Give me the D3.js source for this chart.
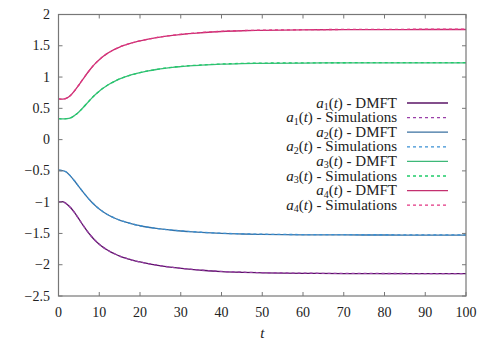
<!DOCTYPE html>
<html>
<head>
<meta charset="utf-8">
<script src="https://cdn.jsdelivr.net/npm/d3@7"></script>
<style>
  body { margin: 0; background: #fff; }
</style>
</head>
<body>
<svg id="chart" width="493" height="345"></svg>
<script>
// values
var times  = [0, 1, 2, 3, 4, 5, 6, 7, 8, 9, 10, 11, 12, 13, 14, 15, 16, 17, 18, 19, 20, 22, 24, 26, 28, 30, 32, 35, 40, 45, 50, 60, 70, 80, 90, 100];
var a1DMFT = [-0.995, -0.99, -1.029, -1.09, -1.173, -1.268, -1.366, -1.459, -1.541, -1.613, -1.672, -1.723, -1.765, -1.802, -1.833, -1.861, -1.885, -1.905, -1.925, -1.941, -1.956, -1.982, -2.005, -2.026, -2.043, -2.058, -2.072, -2.088, -2.109, -2.121, -2.129, -2.137, -2.141, -2.142, -2.143, -2.143];
var a2DMFT = [-0.49, -0.495, -0.521, -0.588, -0.666, -0.751, -0.836, -0.916, -0.989, -1.053, -1.108, -1.156, -1.197, -1.231, -1.261, -1.287, -1.308, -1.329, -1.347, -1.362, -1.377, -1.401, -1.42, -1.436, -1.449, -1.461, -1.471, -1.484, -1.5, -1.509, -1.516, -1.522, -1.524, -1.525, -1.526, -1.526];
var a3DMFT = [0.335, 0.332, 0.335, 0.348, 0.389, 0.442, 0.509, 0.581, 0.652, 0.717, 0.774, 0.824, 0.868, 0.907, 0.94, 0.97, 0.996, 1.017, 1.037, 1.055, 1.071, 1.098, 1.121, 1.14, 1.155, 1.167, 1.178, 1.19, 1.206, 1.215, 1.22, 1.224, 1.226, 1.227, 1.228, 1.228];
var a4DMFT = [0.65, 0.646, 0.662, 0.71, 0.785, 0.873, 0.966, 1.057, 1.141, 1.215, 1.278, 1.332, 1.378, 1.417, 1.451, 1.48, 1.505, 1.527, 1.546, 1.563, 1.578, 1.605, 1.629, 1.649, 1.666, 1.68, 1.693, 1.708, 1.728, 1.74, 1.747, 1.754, 1.758, 1.759, 1.76, 1.76];
var a1Sim  = [-0.995, -0.99, -1.029, -1.09, -1.173, -1.268, -1.366, -1.459, -1.541, -1.613, -1.672, -1.723, -1.765, -1.802, -1.833, -1.861, -1.885, -1.905, -1.925, -1.941, -1.956, -1.982, -2.004, -2.025, -2.042, -2.057, -2.07, -2.086, -2.107, -2.119, -2.127, -2.135, -2.139, -2.14, -2.141, -2.141];
var a2Sim  = [-0.49, -0.495, -0.521, -0.588, -0.666, -0.751, -0.836, -0.916, -0.989, -1.053, -1.108, -1.156, -1.197, -1.231, -1.261, -1.287, -1.308, -1.329, -1.347, -1.362, -1.377, -1.4, -1.419, -1.434, -1.447, -1.459, -1.468, -1.481, -1.497, -1.506, -1.512, -1.518, -1.52, -1.521, -1.522, -1.522];
var a3Sim  = [0.335, 0.332, 0.335, 0.348, 0.389, 0.442, 0.509, 0.581, 0.652, 0.717, 0.774, 0.824, 0.868, 0.907, 0.94, 0.97, 0.996, 1.017, 1.037, 1.055, 1.071, 1.099, 1.122, 1.142, 1.157, 1.17, 1.181, 1.193, 1.209, 1.218, 1.223, 1.227, 1.229, 1.23, 1.231, 1.231];
var a4Sim  = [0.65, 0.646, 0.662, 0.71, 0.785, 0.873, 0.966, 1.057, 1.141, 1.215, 1.278, 1.332, 1.378, 1.417, 1.451, 1.48, 1.505, 1.527, 1.546, 1.563, 1.578, 1.606, 1.631, 1.651, 1.668, 1.683, 1.696, 1.711, 1.731, 1.743, 1.75, 1.757, 1.761, 1.763, 1.764, 1.764];

var xTicks = [0, 10, 20, 30, 40, 50, 60, 70, 80, 90, 100];
var yTicks = [-2.5, -2, -1.5, -1, -0.5, 0, 0.5, 1, 1.5, 2];

var series = [
  {idx: "1", kind: "DMFT",        values: a1DMFT, color: "#5a1466", dash: null},
  {idx: "1", kind: "Simulations", values: a1Sim,  color: "#9a3fa8", dash: "3,3"},
  {idx: "2", kind: "DMFT",        values: a2DMFT, color: "#3a70a0", dash: null},
  {idx: "2", kind: "Simulations", values: a2Sim,  color: "#3a90d4", dash: "3,3"},
  {idx: "3", kind: "DMFT",        values: a3DMFT, color: "#3db878", dash: null},
  {idx: "3", kind: "Simulations", values: a3Sim,  color: "#1fcc6a", dash: "3,3"},
  {idx: "4", kind: "DMFT",        values: a4DMFT, color: "#c4306f", dash: null},
  {idx: "4", kind: "Simulations", values: a4Sim,  color: "#e23482", dash: "3,3"}
];

var plotL = 58.5, plotR = 466, plotT = 14.5, plotB = 296;
var serif = "'Liberation Serif', 'Times New Roman', 'DejaVu Serif', serif";

var svg = d3.select("#chart")
  .attr("font-family", serif);

var x = d3.scaleLinear().domain([0, 100]).range([plotL, plotR]);
var y = d3.scaleLinear().domain([-2.5, 2]).range([plotB, plotT]);

var fmt = function(d){ return d3.format("")(d).replace("-", "\u2212"); };

// curves
var line = d3.line()
  .x(function(d, i){ return x(times[i]); })
  .y(function(d){ return y(d); })
  .curve(d3.curveMonotoneX);

svg.append("g").selectAll("path").data(series).enter().append("path")
  .attr("d", function(s){ return line(s.values); })
  .style("fill", "none")
  .style("stroke", function(s){ return s.color; })
  .style("stroke-width", 1.3)
  .style("stroke-dasharray", function(s){ return s.dash; });

// frame
svg.append("rect")
  .attr("x", plotL).attr("y", plotT)
  .attr("width", plotR - plotL).attr("height", plotB - plotT)
  .style("fill", "none").style("stroke", "#777").style("stroke-width", 1.2);

// ticks, inward on all four sides
var ticksG = svg.append("g").style("stroke", "#777").style("stroke-width", 1);
xTicks.forEach(function(t){
  ticksG.append("line").attr("x1", x(t)).attr("x2", x(t)).attr("y1", plotB).attr("y2", plotB - 4);
  ticksG.append("line").attr("x1", x(t)).attr("x2", x(t)).attr("y1", plotT).attr("y2", plotT + 4);
});
yTicks.forEach(function(v){
  ticksG.append("line").attr("x1", plotL).attr("x2", plotL + 4).attr("y1", y(v)).attr("y2", y(v));
  ticksG.append("line").attr("x1", plotR).attr("x2", plotR - 4).attr("y1", y(v)).attr("y2", y(v));
});

svg.append("g").selectAll("text").data(xTicks).enter().append("text")
  .attr("x", function(d){ return x(d); })
  .attr("y", 317)
  .attr("text-anchor", "middle")
  .attr("font-family", serif)
  .style("font-size", "14px").style("fill", "#222")
  .text(fmt);

svg.append("g").selectAll("text").data(yTicks).enter().append("text")
  .attr("x", 50)
  .attr("y", function(d){ return y(d) + 4.5; })
  .attr("text-anchor", "end")
  .attr("font-family", serif)
  .style("font-size", "14px").style("fill", "#222")
  .text(fmt);

svg.append("text")
  .attr("x", x(50)).attr("y", 338)
  .attr("text-anchor", "middle")
  .attr("font-family", serif)
  .style("font-size", "15px").style("font-style", "italic").style("fill", "#222")
  .text("t");

// legend
var legend = svg.append("g");
series.forEach(function(s, i){
  var ly = 103 + i * 14.6;
  var t = legend.append("text")
    .attr("x", 397).attr("y", ly + 4.5)
    .attr("text-anchor", "end")
    .attr("font-family", serif)
    .style("font-size", "15px").style("fill", "#222");
  t.append("tspan").style("font-style", "italic").text("a");
  t.append("tspan").attr("dy", 2.5).style("font-size", "10px").text(s.idx);
  t.append("tspan").attr("dy", -2.5).text("(");
  t.append("tspan").style("font-style", "italic").text("t");
  t.append("tspan").text(") - " + s.kind);
  legend.append("line")
    .attr("x1", 407).attr("x2", 448)
    .attr("y1", ly).attr("y2", ly)
    .style("stroke", s.color)
    .style("stroke-width", 1.3)
    .style("stroke-dasharray", s.dash);
});
</script>
</body>
</html>
